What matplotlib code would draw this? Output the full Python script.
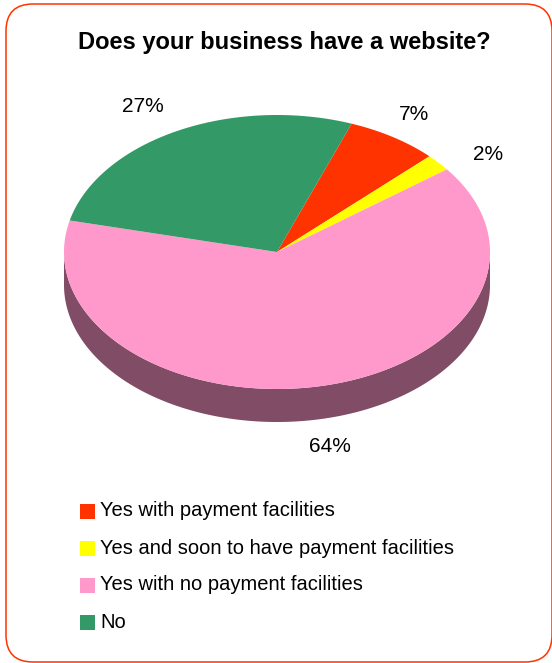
import numpy as np
import matplotlib
matplotlib.use("Agg")
import matplotlib.pyplot as plt
from matplotlib.patches import Polygon, FancyBboxPatch

plt.rcParams['font.family'] = ['Liberation Sans', 'DejaVu Sans']

# Survey data
categories = ["Yes with payment facilities",
              "Yes and soon to have payment facilities",
              "Yes with no payment facilities",
              "No"]
values = [7, 2, 64, 27]
labels = ["7%", "2%", "64%", "27%"]
colors = ["#FF3300", "#FFFF00", "#FF99CC", "#339966"]
side_colors = ["#801A00", "#808000", "#804C66", "#1A4D33"]

W, H = 552, 663
fig = plt.figure(figsize=(W / 100, H / 100), dpi=100)
ax = fig.add_axes([0, 0, 1, 1])
ax.set_xlim(0, W)
ax.set_ylim(H, 0)
ax.axis("off")

# chart frame
frame = FancyBboxPatch((6, 4), 546, 658, boxstyle="round,pad=0,rounding_size=27",
                       fc="white", ec="#FF3300", lw=1.1, zorder=0)
ax.add_patch(frame)

ax.text(284, 42, "Does your business have a website?", ha="center", va="center",
        fontsize=17, fontweight="bold", color="black")

# 3D pie geometry (screen units, angle measured clockwise from top)
cx, cy, ra, rb, depth = 277, 252, 213, 137, 33
start = 20.5


def rim(t):
    t = np.radians(t)
    return cx + ra * np.sin(t), cy - rb * np.cos(t)


total = float(sum(values))
bounds = [start]
for v in values:
    bounds.append(bounds[-1] + 360.0 * v / total)

# side walls (only the front half is visible)
for i in range(len(values)):
    for off in (0, 360):
        t0 = max(bounds[i] - off, 90)
        t1 = min(bounds[i + 1] - off, 270)
        if t1 <= t0:
            continue
        ts = np.linspace(t0, t1, 200)
        xs, ys = rim(ts)
        pts = np.column_stack([np.concatenate([xs, xs[::-1]]),
                               np.concatenate([ys, ys[::-1] + depth])])
        ax.add_patch(Polygon(pts, closed=True, fc=side_colors[i], ec="none", zorder=1))

# top faces
for i in range(len(values)):
    ts = np.linspace(bounds[i], bounds[i + 1], 300)
    xs, ys = rim(ts)
    pts = np.column_stack([np.concatenate([[cx], xs]), np.concatenate([[cy], ys])])
    ax.add_patch(Polygon(pts, closed=True, fc=colors[i], ec="none", zorder=2))

# percentage labels
label_pos = [(414, 114), (488, 154), (330, 447), (143, 107)]
for (x, y), lab in zip(label_pos, labels):
    ax.text(x, y, lab, ha="center", va="center", fontsize=15, color="black")

# legend
leg_y = [511, 548, 585, 622]
for y, c, name in zip(leg_y, colors, categories):
    ax.add_patch(plt.Rectangle((80, y - 7.5), 15, 15, fc=c, ec="none"))
    ax.text(100, y, name, ha="left", va="center", fontsize=14.5, color="black")

fig.savefig("out.png", dpi=100)
